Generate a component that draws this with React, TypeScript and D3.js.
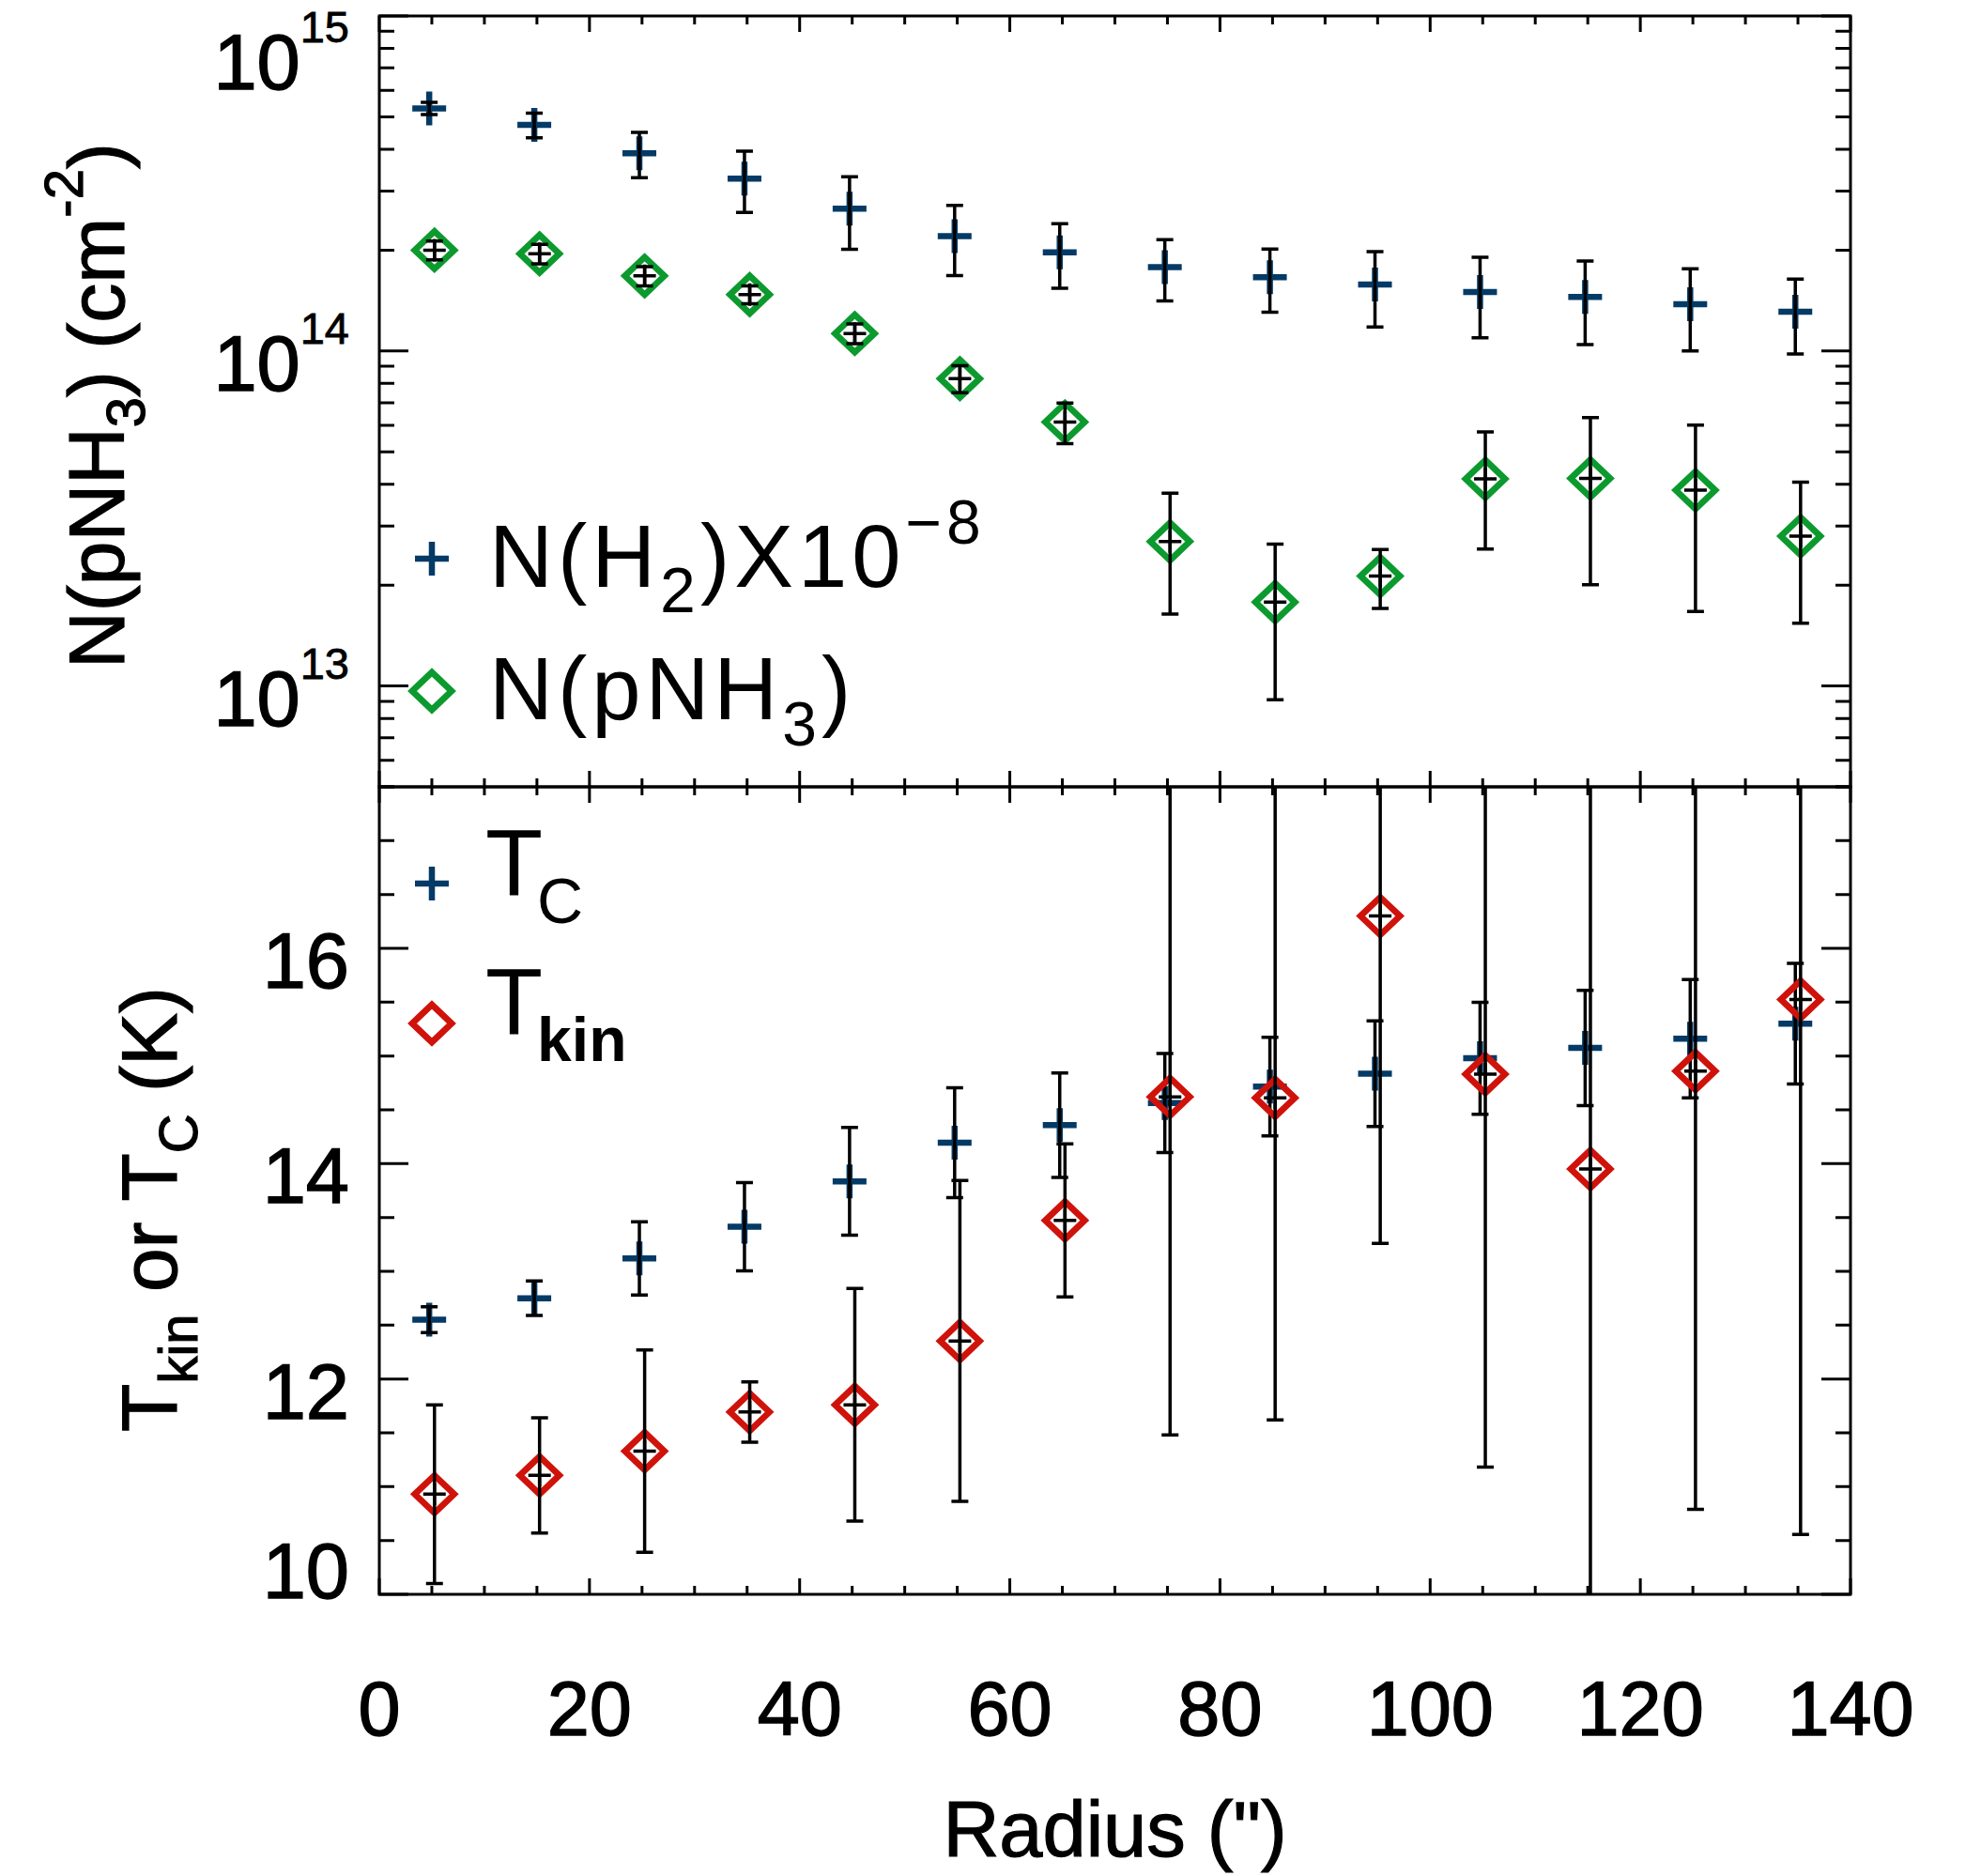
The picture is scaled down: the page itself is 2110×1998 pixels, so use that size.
import React from "react";
import * as d3 from "d3";

// radius of each annulus (arcsec)
const radius = [5, 15, 25, 35, 45, 55, 65, 75, 85, 95, 105, 115, 125, 135];

// column densities, in units of 1e14 cm^-2
const nH2 = [5.3, 4.73, 3.89, 3.27, 2.66, 2.2, 1.97, 1.78, 1.66, 1.58, 1.5, 1.45, 1.38, 1.31];
const nH2Err = [0.22, 0.4, 0.6, 0.68, 0.65, 0.52, 0.43, 0.37, 0.355, 0.4, 0.405, 0.405, 0.38, 0.33];
const nNH3 = [2.0, 1.95, 1.675, 1.473, 1.128, 0.827, 0.614, 0.27, 0.178, 0.213, 0.415, 0.4165, 0.384, 0.28];
const nNH3Err = [0.13, 0.13, 0.11, 0.09, 0.077, 0.077, 0.085, 0.106, 0.087, 0.0425, 0.1585, 0.216, 0.217, 0.126];

// temperatures (K)
const tC = [12.55, 12.75, 13.12, 13.415, 13.836, 14.195, 14.358, 14.563, 14.716, 14.836, 14.979, 15.075, 15.161, 15.3];
const tCErr = [0.12, 0.16, 0.34, 0.41, 0.5, 0.51, 0.485, 0.46, 0.457, 0.49, 0.52, 0.535, 0.55, 0.56];
const tKin = [10.93, 11.105, 11.33, 11.693, 11.76, 12.353, 13.473, 14.621, 14.611, 16.3, 14.831, 13.951, 14.86, 15.525];
const tKinErr = [0.83, 0.535, 0.94, 0.28, 1.08, 1.49, 0.71, 3.14, 2.99, 3.04, 3.65, 4.3, 4.07, 4.97];

const xTicks = [0, 20, 40, 60, 80, 100, 120, 140];
const nTicks = [1e13, 1e14, 1e15];
const nExponents = ["13", "14", "15"];
const tTicks = [10, 12, 14, 16];

const W = 2110;
const H = 1998;
const left = 404;
const right = 1971;
const top = 17;
const mid = 838;
const bottom = 1698;

const navy = "#043a66";
const green = "#0c9a2e";
const red = "#cf130b";
const font = "'Liberation Sans', Arial, Helvetica, sans-serif";

const x = d3.scaleLinear([0, 140], [left, right]);
const yN = d3.scaleLog([5e12, 1e15], [mid, top]);
const yT = d3.scaleLinear([10, 17.5], [bottom, mid]);

const xMinor = d3.range(0, 141, 5).filter((v) => v % 20 !== 0);
const nMinor = [1e12, 1e13, 1e14]
  .flatMap((d) => d3.range(2, 10).map((m) => m * d))
  .filter((v) => v >= 5e12 && v <= 1e15);
const tMinor = d3.range(10, 17.51, 0.5).filter((v) => v % 2 !== 0);

const XMAJ = 17;
const XMIN = 9;
const YMAJ = 31;
const YMIN = 16;
const dodge = 2.8; // IDL symbol offset

const Plus = ({ cx, cy }: { cx: number; cy: number }) => (
  <path d={`M${cx - 18},${cy}H${cx + 18}M${cx},${cy - 18}V${cy + 18}`} stroke={navy} strokeWidth={6.5} fill="none" />
);

const Diamond = ({ cx, cy, color }: { cx: number; cy: number; color: string }) => (
  <path
    d={`M${cx},${cy - 20}L${cx + 21},${cy}L${cx},${cy + 20}L${cx - 21},${cy}Z`}
    stroke={color}
    strokeWidth={6.8}
    fill="none"
  />
);

const ErrBar = ({ cx, y0, y1, center }: { cx: number; y0: number; y1: number; center?: number }) => (
  <g stroke="#000" strokeWidth={3.5} fill="none">
    <path d={`M${cx},${y0}V${y1}M${cx - 9},${y0}H${cx + 9}M${cx - 9},${y1}H${cx + 9}`} />
    {center !== undefined && <path d={`M${cx - 12},${center}H${cx + 12}M${cx},${center - 12}V${center + 12}`} />}
  </g>
);

// y tick label baseline, kept inside the panel like IDL does
const labelY = (y: number, pTop: number, pBottom: number) => Math.min(Math.max(y + 42, pTop + 78), pBottom + 4);

const Frame = ({ pTop, pBottom }: { pTop: number; pBottom: number }) => (
  <g stroke="#000" strokeWidth={3} fill="none">
    <rect x={left} y={pTop} width={right - left} height={pBottom - pTop} />
    {xTicks.map((v) => (
      <path key={"a" + v} d={`M${x(v)},${pTop}v${XMAJ}M${x(v)},${pBottom}v${-XMAJ}`} />
    ))}
    {xMinor.map((v) => (
      <path key={"b" + v} d={`M${x(v)},${pTop}v${XMIN}M${x(v)},${pBottom}v${-XMIN}`} />
    ))}
  </g>
);

const YTicks = ({ ys, len }: { ys: number[]; len: number }) => (
  <g stroke="#000" strokeWidth={3}>
    {ys.map((y, i) => (
      <path key={i} d={`M${left},${y}h${len}M${right},${y}h${-len}`} />
    ))}
  </g>
);

export default function App() {
  return (
    <svg
      width={W}
      height={H}
      viewBox={`0 0 ${W} ${H}`}
      style={{ position: "absolute", left: 0, top: 0, background: "#fff" }}
      fontFamily={font}
    >
      <defs>
        <clipPath id="clipTop">
          <rect x={left} y={top} width={right - left} height={mid - top} />
        </clipPath>
        <clipPath id="clipBottom">
          <rect x={left} y={mid} width={right - left} height={bottom - mid} />
        </clipPath>
      </defs>
      <rect width={W} height={H} fill="#fff" />

      {/* top panel: column densities */}
      <g clipPath="url(#clipTop)">
        {radius.map((r, i) => (
          <g key={"h" + i}>
            <Plus cx={x(r) - dodge} cy={yN(nH2[i] * 1e14)} />
            <ErrBar cx={x(r) - dodge} y0={yN((nH2[i] + nH2Err[i]) * 1e14)} y1={yN((nH2[i] - nH2Err[i]) * 1e14)} />
          </g>
        ))}
        {radius.map((r, i) => (
          <g key={"n" + i}>
            <Diamond cx={x(r) + dodge} cy={yN(nNH3[i] * 1e14)} color={green} />
            <ErrBar
              cx={x(r) + dodge}
              y0={yN((nNH3[i] + nNH3Err[i]) * 1e14)}
              y1={yN((nNH3[i] - nNH3Err[i]) * 1e14)}
              center={yN(nNH3[i] * 1e14)}
            />
          </g>
        ))}
      </g>

      {/* bottom panel: temperatures */}
      <g clipPath="url(#clipBottom)">
        {radius.map((r, i) => (
          <g key={"c" + i}>
            <Plus cx={x(r) - dodge} cy={yT(tC[i])} />
            <ErrBar cx={x(r) - dodge} y0={yT(tC[i] + tCErr[i])} y1={yT(tC[i] - tCErr[i])} />
          </g>
        ))}
        {radius.map((r, i) => (
          <g key={"k" + i}>
            <Diamond cx={x(r) + dodge} cy={yT(tKin[i])} color={red} />
            <ErrBar
              cx={x(r) + dodge}
              y0={yT(tKin[i] + tKinErr[i])}
              y1={yT(tKin[i] - tKinErr[i])}
              center={yT(tKin[i])}
            />
          </g>
        ))}
      </g>

      <Frame pTop={top} pBottom={mid} />
      <Frame pTop={mid} pBottom={bottom} />
      <YTicks ys={nTicks.map((v) => yN(v))} len={YMAJ} />
      <YTicks ys={nMinor.map((v) => yN(v))} len={YMIN} />
      <YTicks ys={tTicks.map((v) => yT(v))} len={YMAJ} />
      <YTicks ys={tMinor.map((v) => yT(v))} len={YMIN} />

      {/* tick labels */}
      <g fontSize={81} textAnchor="middle" stroke="#000" strokeWidth={1.4}>
        {xTicks.map((v) => (
          <text key={v} x={x(v)} y={1848}>
            {v}
          </text>
        ))}
      </g>
      <g fontSize={83} textAnchor="end" stroke="#000" strokeWidth={1.4}>
        {nTicks.map((v, i) => (
          <text key={v} x={372} y={labelY(yN(v), top, mid)}>
            10
            <tspan fontSize={47} dy={-50} strokeWidth={0.8}>
              {nExponents[i]}
            </tspan>
          </text>
        ))}
        {tTicks.map((v) => (
          <text key={v} x={372} y={labelY(yT(v), mid, bottom)}>
            {v}
          </text>
        ))}
      </g>

      {/* axis titles */}
      <g stroke="#000" strokeWidth={1.2}>
        <text x={(left + right) / 2} y={1977} fontSize={83} textAnchor="middle">
          Radius (")
        </text>
        <text transform="translate(132,432) rotate(-90)" fontSize={84} textAnchor="middle">
          N(pNH
          <tspan fontSize={58} dy={22}>
            3
          </tspan>
          <tspan dy={-22}>) (cm</tspan>
          <tspan fontSize={58} dy={-44}>
            -2
          </tspan>
          <tspan dy={44}>)</tspan>
        </text>
        <text transform="translate(188,1288) rotate(-90)" fontSize={84} textAnchor="middle">
          T
          <tspan fontSize={58} dy={22}>
            kin
          </tspan>
          <tspan dy={-22}> or T</tspan>
          <tspan fontSize={58} dy={22}>
            C
          </tspan>
          <tspan dy={-22}> (K)</tspan>
        </text>
      </g>

      {/* legends */}
      <Plus cx={460} cy={595} />
      <text x={521} y={625} fontSize={94} letterSpacing={5}>
        N(H
        <tspan fontSize={68} dy={27}>
          2
        </tspan>
        <tspan dy={-27}>)X10</tspan>
        <tspan fontSize={66} dy={-46}>
          −8
        </tspan>
      </text>
      <Diamond cx={460} cy={736} color={green} />
      <text x={521} y={766} fontSize={94} letterSpacing={5}>
        N(pNH
        <tspan fontSize={66} dy={28}>
          3
        </tspan>
        <tspan dy={-28}>)</tspan>
      </text>

      <Plus cx={460} cy={941} />
      <text x={517} y={953} fontSize={100}>
        T
        <tspan fontSize={68} dy={30} dx={-6}>
          C
        </tspan>
      </text>
      <Diamond cx={460} cy={1090} color={red} />
      <text x={517} y={1101} fontSize={100}>
        T
        <tspan fontSize={66} fontWeight="bold" dy={29} dx={-6}>
          kin
        </tspan>
      </text>
    </svg>
  );
}
